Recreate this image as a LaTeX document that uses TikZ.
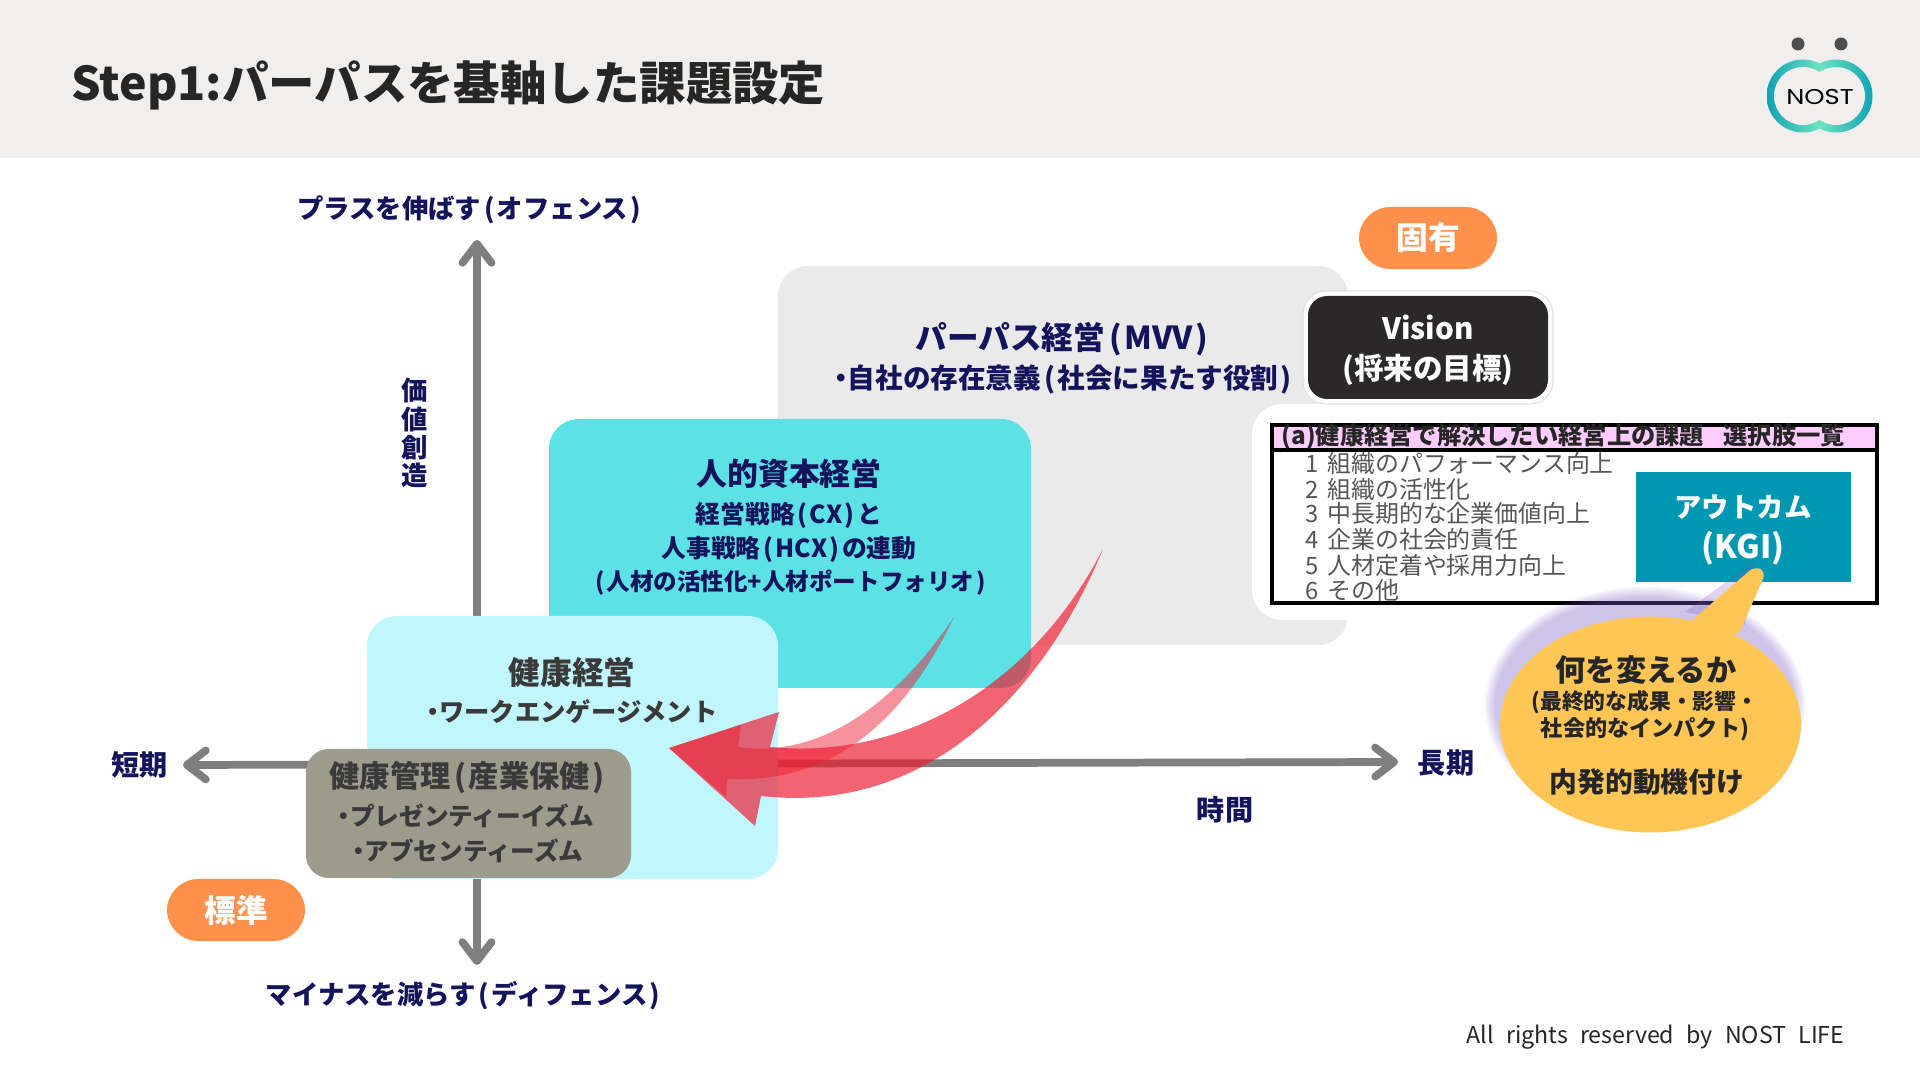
\documentclass[tikz,border=0pt]{standalone}
\usepackage{fontspec}
\setmainfont{Noto Sans CJK JP}
\newfontfamily\logofont{Poppins}
\usepackage{xcolor}
\usetikzlibrary{
  arrows.meta,
  positioning,
  calc
}
\definecolor{headbg}{HTML}{F0EFEE}
\definecolor{navytxt}{HTML}{14145C}
\definecolor{darktxt}{HTML}{3A3A3A}
\definecolor{axisgray}{HTML}{7F7F7F}
\definecolor{mvvgray}{HTML}{EAEAEA}
\definecolor{hcteal}{HTML}{5CE1E6}
\definecolor{kenkoblue}{HTML}{C1F6FF}
\definecolor{kanrigray}{HTML}{9C9B8C}
\definecolor{pillorange}{HTML}{FF914D}
\definecolor{visionblack}{HTML}{2B2829}
\definecolor{tablepink}{HTML}{FFCCFF}
\definecolor{outcometeal}{HTML}{0097B2}
\definecolor{bubbleyellow}{HTML}{FFC655}
\definecolor{glowpurple}{HTML}{7A5FC8}
\definecolor{arrowred}{HTML}{ED1C2E}
\definecolor{logoteal}{HTML}{10A3B5}
\definecolor{logomint}{HTML}{6FE3C0}
\newcommand{\fsz}[1]{\fontsize{#1pt}{#1pt}\selectfont}
\newcommand{\lp}{\hspace{.12em}(\hspace{.08em}}
\newcommand{\rp}{\hspace{.08em})\hspace{.12em}}
\newcommand{\nakadot}{\makebox[.5em]{・}}
\tikzset{
  txt/.style={inner sep=0pt,font=\bfseries\fsz{#1}},
  navy/.style={txt=#1,text=navytxt},
  dark/.style={txt=#1,text=darktxt},
  pill/.style={fill=pillorange,rounded corners=9pt,text=white,inner sep=0pt,
    minimum width=1.38cm,minimum height=0.62cm,font=\bfseries\fsz{9}},
  axisline/.style={axisgray,line width=2.2pt,line cap=round,
    {Straight Barb[length=1.9mm,width=2.9mm,line width=2.2pt,round]}-{Straight Barb[length=1.9mm,width=2.9mm,line width=2.2pt,round]}},
  item/.style={inner sep=0pt,anchor=west,text=darktxt!85,font=\fsz{6.8}}
}

\begin{document}
\begin{tikzpicture}[x=0.01cm,y=-0.01cm]
\useasboundingbox (0,0) rectangle (1920,1080);
\fill[white] (0,0) rectangle (1920,1080);

% header
\fill[headbg] (0,0) rectangle (1920,158);
\node[txt=13.2,text=black!85,anchor=west] (title) at (71,85) {Step1:パーパスを基軸した課題設定};

% logo
\fill[darktxt!90] (1798,44) circle (6.5) (1841,44) circle (6.5);
\begin{scope}
\clip (1803,96) circle (36.5) (1836,96) circle (36.5);
\shade[left color=logoteal,right color=logoteal,middle color=logomint] (1767,55) rectangle (1873,137);
\end{scope}
\fill[headbg] (1803,96) circle (29) (1836,96) circle (29);
\node[inner sep=0pt,font=\logofont\fsz{6.1}] (logotext) at (1820,97) {\scalebox{1.2}[1]{NOST}};

% background boxes
\fill[mvvgray,rounded corners=8.5pt] (778,266) rectangle (1348,645);
\fill[white,rounded corners=8.5pt] (1252,404) rectangle (1882,620);
\fill[hcteal,rounded corners=8.5pt] (549,419) rectangle (1031,688);

% axes
\coordinate (left) at (183,765);
\coordinate (right) at (1398,762);
\coordinate (top) at (477,240);
\coordinate (bottom) at (477,965);
\draw[axisline] (left) -- (right);
\draw[axisline] (bottom) -- (top);

\fill[kenkoblue,rounded corners=8.5pt] (367,616) rectangle (778,879);
\fill[kanrigray,rounded corners=6.5pt] (306,749) rectangle (631,878);

% axis labels
\node[navy=7.5] (plus) at (469,210) {プラスを伸ばす\lp オフェンス\rp};
\node[navy=7.5] (minus) at (463,996) {マイナスを減らす\lp ディフェンス\rp};
\node[navy=7.5,align=center] (value) at (415,433) {価\\[0.5pt]値\\[0.5pt]創\\[0.5pt]造};
\node[navy=8] (short) at (140,765) {短期};
\node[navy=8] (long) at (1446,763) {長期};
\node[navy=8] (time) at (1225,810) {時間};

% pills
\node[pill] (koyu) at (1428,238) {固有};
\node[pill] (hyojun) at (236,910) {標準};

% MVV
\node[navy=9] (mvv) at (1062,339) {パーパス経営\lp MVV\rp};
\node[navy=7.85] (mvvsub) at (1063,380) {\nakadot 自社の存在意義\lp 社会に果たす役割\rp};
\filldraw[fill=white,draw=black!12,line width=.3pt,rounded corners=6.5pt] (1303,291) rectangle (1553,404);
\fill[visionblack,rounded corners=5.5pt] (1308,296) rectangle (1548,399);
\node[txt=8.4,text=white] (vision) at (1428,327) {Vision};
\node[txt=8.4,text=white] (visionsub) at (1428,370) {(将来の目標)};

% table
\fill[tablepink] (1272,425) rectangle (1877,450);
\draw[black,line width=1pt] (1272,425) rectangle (1877,603) (1272,450) -- (1877,450);
\node[txt=6.9,text=black!85,anchor=west] (tablehead) at (1281,437) {(a)健康経営で解決したい経営上の課題\hspace{0.8em}選択肢一覧};
\foreach \n/\t/\y in {1/組織のパフォーマンス向上/463,2/組織の活性化/489,3/中長期的な企業価値向上/513,4/企業の社会的責任/539,5/人材定着や採用力向上/565,6/その他/590}
  \node[item] (item\n) at (1305,\y) {\n\hspace{0.35em}\t};
\fill[outcometeal] (1636,472) rectangle (1851,582);
\node[txt=7.8,text=white] (outcome) at (1743,507) {アウトカム};
\node[txt=9.2,text=white] (kgi) at (1743,548) {(KGI)};

% human capital
\node[navy=8.8] (hc) at (789,474) {人的資本経営};
\node[navy=7.05] (hca) at (789,515) {経営戦略\lp CX\rp と};
\node[navy=7.05] (hcb) at (789,549) {人事戦略\lp HCX\rp の連動};
\node[navy=6.7] (hcc) at (789,583) {\lp 人材の活性化+人材ポートフォリオ\rp};

% health
\node[dark=9] (kenko) at (572,672) {健康経営};
\node[dark=7.2] (kenkosub) at (572,712) {\nakadot ワークエンゲージメント};
\node[dark=8.6] (kanri) at (467,778) {健康管理\lp 産業保健\rp};
\node[dark=7] (kanria) at (466,816) {\nakadot プレゼンティーイズム};
\node[dark=7] (kanrib) at (468,851) {\nakadot アブセンティーズム};

% red arrows
\fill[arrowred,opacity=.48] (954,617) .. controls (905,690) and (830,760) .. (738,747)
  -- (741,725) -- (669,748) -- (726,797) -- (727,779)
  .. controls (840,785) and (910,710) .. (954,617) -- cycle;
\fill[arrowred,opacity=.68] (1103,549) .. controls (1030,690) and (900,760) .. (770,747)
  -- (779,712) -- (669,748) -- (755,826) -- (761,796)
  .. controls (930,815) and (1045,690) .. (1103,549) -- cycle;

% speech bubble
\foreach \r in {0,2,...,10}
  \fill[glowpurple,opacity=.07] (1645,705) ellipse ({150+\r} and {108+\r});
\fill[glowpurple,opacity=.25] (1685,612) -- (1756,560) -- (1745,625) -- cycle;
\fill[bubbleyellow] (1650.5,724.5) ellipse (150.5 and 108);
\fill[bubbleyellow,rounded corners=2pt] (1690,622) -- (1755,566) -- (1766,572) -- (1738,636) -- cycle;
\node[txt=8.6,text=black!85] (bubblea) at (1646,670) {何を変えるか};
\node[txt=6.2,text=black!85] (bubbleb) at (1645,702) {(最終的な成果・影響・};
\node[txt=6.3,text=black!85] (bubblec) at (1645,729) {社会的なインパクト)};
\node[txt=7.9,text=black!85] (bubbled) at (1647,782) {内発的動機付け};

% footer
\node[inner sep=0pt,text=black!85,font=\fsz{6.6},anchor=east] (footer) at (1845,1037) {All\hspace{.3em} rights\hspace{.3em} reserved\hspace{.3em} by\hspace{.3em} NOST\hspace{.3em} LIFE};

\end{tikzpicture}
\end{document}
